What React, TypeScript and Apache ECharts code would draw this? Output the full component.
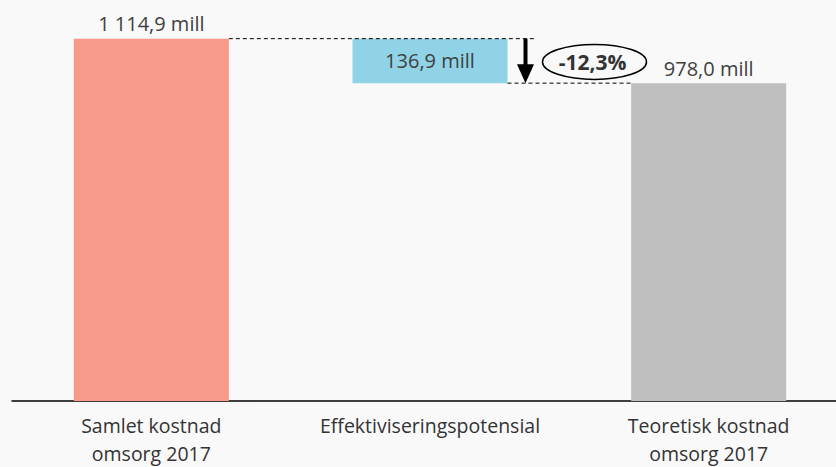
import React, { useEffect, useRef } from "react";
import * as echarts from "echarts";

const categories = ["Samlet kostnad\nomsorg 2017", "Effektiviseringspotensial", "Teoretisk kostnad\nomsorg 2017"];
const baseValues = [0, 978.0, 0];
const barValues = [1114.9, 136.9, 978.0];
const valueLabels = ["1 114,9 mill", "136,9 mill", "978,0 mill"];
const barColors = ["#F79A8A", "#90D3E6", "#BFBFBF"];
const changeLabel = "-12,3%";

const FONT = "'Open Sans', 'Noto Sans', sans-serif";
const BAR_W = 155;

export default function App() {
  const ref = useRef<HTMLDivElement>(null);
  useEffect(() => {
    const chart = echarts.init(ref.current!, null, { renderer: "svg" });
    chart.setOption({
      animation: false,
      backgroundColor: "#F9F9F9",
      grid: { left: 12, right: 0, top: 11, bottom: 63 },
      xAxis: {
        type: "category",
        data: categories,
        axisLine: { lineStyle: { color: "#000", width: 1.5 } },
        axisTick: { show: false },
        axisLabel: {
          color: "#333",
          fontSize: 19.5,
          fontFamily: FONT,
          lineHeight: 28,
          margin: 10,
          interval: 0,
          hideOverlap: false,
        },
      },
      yAxis: { type: "value", min: 0, max: 1200, show: false, splitLine: { show: false } },
      series: [
        {
          type: "bar",
          stack: "w",
          barWidth: BAR_W,
          data: baseValues,
          itemStyle: { color: "transparent" },
          silent: true,
        },
        {
          type: "bar",
          stack: "w",
          barWidth: BAR_W,
          data: barValues.map((v, i) => ({
            value: v,
            itemStyle: { color: barColors[i] },
            label: {
              show: true,
              position: i === 1 ? "inside" : "top",
              distance: 5,
              formatter: valueLabels[i],
              color: "#404040",
              fontSize: 20,
              fontFamily: FONT,
            },
          })),
        },
      ],
    });

    const top0 = chart.convertToPixel({ xAxisIndex: 0, yAxisIndex: 0 }, [0, barValues[0]]) as number[];
    const bot1 = chart.convertToPixel({ xAxisIndex: 0, yAxisIndex: 0 }, [1, baseValues[1]]) as number[];
    const top2 = chart.convertToPixel({ xAxisIndex: 0, yAxisIndex: 0 }, [2, barValues[2]]) as number[];
    const hw = BAR_W / 2;
    const arrowX = bot1[0] + hw + 18;
    const yTop = top0[1];
    const yBot = bot1[1];
    const cx = arrowX + 69;
    const cy = (yTop + yBot) / 2 + 1;

    chart.setOption({
      graphic: [
        {
          type: "line",
          shape: { x1: top0[0] + hw, y1: yTop, x2: arrowX + 9, y2: yTop },
          style: { stroke: "#000", lineWidth: 1, lineDash: [4, 3] },
          z: 100,
        },
        {
          type: "line",
          shape: { x1: bot1[0] + hw, y1: yBot, x2: top2[0] - hw, y2: yBot },
          style: { stroke: "#000", lineWidth: 1, lineDash: [4, 3] },
          z: 100,
        },
        {
          type: "line",
          shape: { x1: arrowX, y1: yTop, x2: arrowX, y2: yBot - 16 },
          style: { stroke: "#000", lineWidth: 4 },
          z: 100,
        },
        {
          type: "polygon",
          shape: { points: [[arrowX - 8.5, yBot - 19], [arrowX + 8.5, yBot - 19], [arrowX, yBot]] },
          style: { fill: "#000" },
          z: 100,
        },
        {
          type: "ellipse",
          shape: { cx, cy, rx: 52, ry: 17.5 },
          style: { fill: "#F9F9F9", stroke: "#000", lineWidth: 1.5 },
          z: 100,
        },
        {
          type: "text",
          x: cx - 2,
          y: cy,
          style: {
            text: changeLabel,
            fontFamily: FONT,
            fontSize: 21,
            fontWeight: "bold",
            fill: "#333",
            align: "center",
            verticalAlign: "middle",
          },
          z: 101,
        },
      ],
    });
    return () => chart.dispose();
  }, []);
  return (
    <div style={{ position: "absolute", left: 0, top: 0, width: 836, height: 467, overflow: "hidden" }}>
      <div ref={ref} style={{ width: 848, height: 467 }} />
    </div>
  );
}
